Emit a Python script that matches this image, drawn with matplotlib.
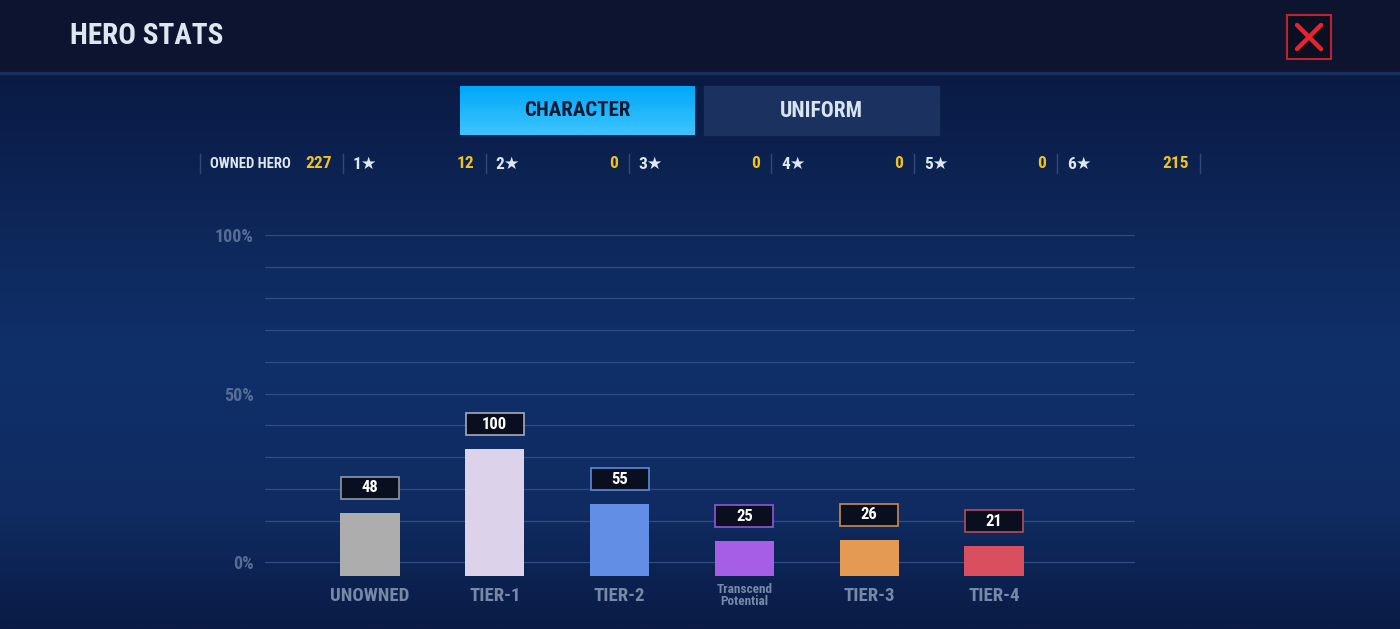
import numpy as np
import matplotlib.pyplot as plt
from matplotlib import font_manager as fm
from matplotlib.patches import Rectangle
from matplotlib.colors import LinearSegmentedColormap
from matplotlib.transforms import ScaledTranslation


def weight_of(f):
    w = f.weight
    if isinstance(w, str):
        w = fm.weight_dict.get(w, 400)
    return w


# pick a narrow bold face if one is around (the game font is condensed)
bold_narrow = []
for f in fm.fontManager.ttflist:
    if ('Narrow' in f.name or 'Condensed' in f.name) and weight_of(f) >= 600 \
            and f.style == 'normal':
        bold_narrow.append(f.name)
prefer = ['Roboto Condensed', 'Liberation Sans Narrow', 'Open Sans Condensed',
          'Noto Sans Condensed', 'DejaVu Sans Condensed']
FONT = None
for p in prefer:
    if p in bold_narrow:
        FONT = [p, 'DejaVu Sans']
        break
if FONT is None and bold_narrow:
    FONT = [sorted(bold_narrow)[0], 'DejaVu Sans']
STRETCH = 'normal'
if FONT is None:
    FONT = ['DejaVu Sans']
    STRETCH = 'condensed'
plt.rcParams['font.family'] = FONT
plt.rcParams['font.stretch'] = STRETCH

# data
categories = ["UNOWNED", "TIER-1", "TIER-2", "Transcend\nPotential", "TIER-3", "TIER-4"]
counts = [48, 100, 55, 25, 26, 21]
bar_colors = ["#adadad", "#dcd3ea", "#628ee6", "#a75ee6", "#e59a53", "#d94f5f"]
box_edges = ["#8e97aa", "#a7a9bd", "#5f8ad8", "#9157d8", "#c98b55", "#b44d60"]

stat_labels = ["OWNED HERO", "1★", "2★", "3★", "4★", "5★", "6★"]
stat_values = [227, 12, 0, 0, 0, 0, 215]

grid_pct = [0, 10, 20, 30, 40, 50, 60, 70, 80, 90, 100]
pct_labels = {0: "0%", 50: "50%", 100: "100%"}

W, H = 1400, 629
fig = plt.figure(figsize=(14, 6.29), dpi=100)

# background in pixel coords
bg = fig.add_axes([0, 0, 1, 1])
bg.set_xlim(0, W)
bg.set_ylim(H, 0)
bg.axis('off')
grad = LinearSegmentedColormap.from_list('bg', [
    (0.0, "#0a1a44"), (0.25, "#0d2657"), (0.5, "#10306a"),
    (0.8, "#0f2b61"), (1.0, "#0a1b45")])
bg.imshow(np.linspace(0, 1, 200).reshape(-1, 1), cmap=grad, aspect='auto',
          extent=[0, W, H, 72], zorder=0)
bg.add_patch(Rectangle((0, 0), W, 72, color="#0d1430", zorder=1))
bg.add_patch(Rectangle((0, 72), W, 2, color="#16305f", zorder=1))
bg.text(70, 36, "HERO STATS", color="#dce7f2", fontsize=21, fontweight='bold',
        va='center', ha='left', zorder=2)

# close button
bg.add_patch(Rectangle((1287, 15), 44, 44, facecolor="#0a0f22", edgecolor="#c0222c",
                       lw=1.5, zorder=2))
bg.plot([1297, 1321], [25, 49], color="#e8232f", lw=3.2, solid_capstyle='round', zorder=3)
bg.plot([1297, 1321], [49, 25], color="#e8232f", lw=3.2, solid_capstyle='round', zorder=3)

# tabs
tab = LinearSegmentedColormap.from_list('tab', ["#00a8f8", "#3ec4ff"])
bg.imshow(np.linspace(0, 1, 50).reshape(-1, 1), cmap=tab, aspect='auto',
          extent=[460, 695, 135, 86], zorder=2)
bg.add_patch(Rectangle((704, 86), 235, 49, color="#1b3261", zorder=2))
bg.text(577.5, 111, "CHARACTER", color="#0b1a33", fontsize=15, fontweight='bold',
        ha='center', va='center', zorder=3)
bg.text(821.5, 111, "UNIFORM", color="#d8e4f0", fontsize=15.5, fontweight='bold',
        ha='center', va='center', zorder=3)

# owned hero row
step = 142.86
for k in range(len(stat_labels) + 1):
    x = 200 + step * k
    bg.plot([x, x], [154, 173], color="#33477a", lw=1, zorder=2)
for k, (lab, val) in enumerate(zip(stat_labels, stat_values)):
    x = 200 + step * k
    fs = 10.5 if k == 0 else 12.5
    bg.text(x + 10, 164, lab, color="#dfe8f2", fontsize=fs, fontweight='bold',
            ha='left', va='center', family=FONT, zorder=3)
    bg.text(x + step - 11, 164, str(val), color="#f3c21c", fontsize=12.5,
            fontweight='bold', ha='right', va='center', zorder=3)

# chart area
rect = [265 / W, (H - 576) / H, 870 / W, 341 / H]

pax = fig.add_axes(rect)
pax.set_facecolor('none')
pax.set_ylim(-7.47, 100)
pax.set_xlim(0, 1)
zero_line = -3.2  # the 0% line sits a bit lower than the even spacing
ticks = []
labels = []
for p in grid_pct:
    y = zero_line if p == 0 else p
    pax.axhline(y, color="#2f4c85", lw=0.9)
    if p in pct_labels:
        ticks.append(y)
        labels.append(pct_labels[p])
pax.set_yticks(ticks)
pax.set_yticklabels(labels)
pax.set_xticks([])
pax.tick_params(axis='y', length=0, pad=8, labelcolor="#566d96", labelsize=13)
for t in pax.get_yticklabels():
    t.set_fontweight('bold')
for s in pax.spines.values():
    s.set_visible(False)

ax = fig.add_axes(rect)
ax.set_facecolor('none')
px_per_unit = 1.228
stub = 3.4  # minimum bar stub in the game UI
ax.set_ylim(0, 341 / px_per_unit)
sp = 124.8
ax.set_xlim(-(370 - 265) / sp, 5 + (1135 - 994) / sp)
x = np.arange(len(categories))
heights = [c + stub for c in counts]
ax.bar(x, heights, width=0.475, color=bar_colors, zorder=2)

box_w = 0.465
box_h = 22 / px_per_unit
gap = 14 / px_per_unit
for i, (c, h) in enumerate(zip(counts, heights)):
    y0 = h + gap
    ax.add_patch(Rectangle((i - box_w / 2, y0), box_w, box_h, facecolor="#0a0f1f",
                           edgecolor=box_edges[i], lw=1.2, zorder=3, clip_on=False))
    ax.text(i, y0 + box_h / 2, str(c), color="white", fontsize=12, fontweight='bold',
            ha='center', va='center', zorder=4)

ax.set_xticks(x)
ax.set_xticklabels(categories)
ax.set_yticks([])
ax.tick_params(axis='x', length=0, pad=8, labelcolor="#7788a8", labelsize=13.5)
for t in ax.get_xticklabels():
    t.set_fontweight('bold')
    if "\n" in t.get_text():
        t.set_fontsize(9.5)
        t.set_linespacing(0.95)
        t.set_transform(t.get_transform() + ScaledTranslation(0, 3 / 72, fig.dpi_scale_trans))
for s in ax.spines.values():
    s.set_visible(False)

fig.savefig("out.png", dpi=100)
